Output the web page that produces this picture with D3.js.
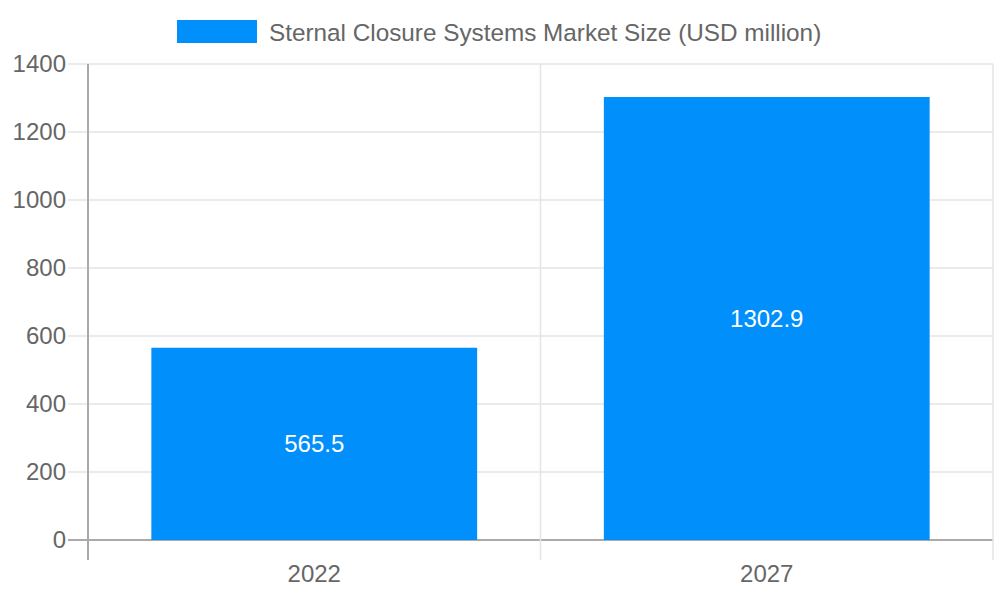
<!DOCTYPE html>
<html>
<head>
<meta charset="utf-8">
<script src="https://cdn.jsdelivr.net/npm/d3@7"></script>
<style>
  body { margin: 0; background: #fff; }
  text { font-family: "Liberation Sans", Arial, sans-serif; }
</style>
</head>
<body>
<svg id="chart" width="1000" height="600"></svg>
<script>
const years = ['2022', '2027']
const marketSize = [565.5, 1302.9]
const yTicks = [0, 200, 400, 600, 800, 1000, 1200, 1400]
const seriesName = 'Sternal Closure Systems Market Size (USD million)'

let margin = {top: 64, right: 7, bottom: 60, left: 88}
let width = 1000 - margin.left - margin.right
let height = 600 - margin.top - margin.bottom
let fontSize = 24

let svg = d3.select('#chart')
let fig = svg.append('g')
    .attr('transform', `translate(${margin.left},${margin.top})`)

let xAxis = d3.scaleBand()
    .domain(years)
    .range([0, width])
    .paddingInner(0)
    .paddingOuter(0)

let yAxis = d3.scaleLinear()
    .domain([0, 1400])
    .range([height, 0])

// horizontal grid + y tick marks
fig.selectAll('.hgrid')
    .data(yTicks)
    .enter().append('line')
    .attr('class', 'hgrid')
    .attr('x1', -20)
    .attr('x2', width)
    .attr('y1', (d) => yAxis(d))
    .attr('y2', (d) => yAxis(d))
    .attr('stroke', (d) => d === 0 ? '#aaaaaa' : '#e4e4e4')
    .attr('stroke-width', (d) => d === 0 ? 2 : 1.5)

// vertical grid lines at category edges
let edges = [0, xAxis.bandwidth(), width]
fig.selectAll('.vgrid')
    .data(edges)
    .enter().append('line')
    .attr('class', 'vgrid')
    .attr('x1', (d) => d)
    .attr('x2', (d) => d)
    .attr('y1', 0)
    .attr('y2', height + 20)
    .attr('stroke', (d, i) => i === 0 ? '#aaaaaa' : '#e4e4e4')
    .attr('stroke-width', (d, i) => i === 0 ? 2 : 1.5)

// y labels
fig.selectAll('.ylab')
    .data(yTicks)
    .enter().append('text')
    .attr('class', 'ylab')
    .attr('x', -22)
    .attr('y', (d) => yAxis(d))
    .attr('dy', '0.35em')
    .attr('text-anchor', 'end')
    .attr('font-size', fontSize)
    .attr('fill', '#666')
    .text((d) => d)

// x labels
fig.selectAll('.xlab')
    .data(years)
    .enter().append('text')
    .attr('class', 'xlab')
    .attr('x', (d) => xAxis(d) + xAxis.bandwidth() / 2)
    .attr('y', height + 34)
    .attr('dy', '0.35em')
    .attr('text-anchor', 'middle')
    .attr('font-size', fontSize)
    .attr('fill', '#666')
    .text((d) => d)

// bars (72% of category width)
let barW = xAxis.bandwidth() * 0.72
fig.selectAll('.bar')
    .data(marketSize)
    .enter().append('rect')
    .attr('class', 'bar')
    .attr('x', (d, i) => xAxis(years[i]) + (xAxis.bandwidth() - barW) / 2)
    .attr('y', (d) => yAxis(d))
    .attr('width', barW)
    .attr('height', (d) => height - yAxis(d))
    .attr('fill', '#008ffb')

// value labels
fig.selectAll('.vlab')
    .data(marketSize)
    .enter().append('text')
    .attr('class', 'vlab')
    .attr('x', (d, i) => xAxis(years[i]) + xAxis.bandwidth() / 2)
    .attr('y', (d) => (yAxis(d) + height) / 2)
    .attr('dy', '0.35em')
    .attr('text-anchor', 'middle')
    .attr('font-size', fontSize)
    .attr('fill', '#fff')
    .text((d) => d)

// legend
let legend = svg.append('g')
legend.append('rect')
    .attr('x', 177)
    .attr('y', 20)
    .attr('width', 80)
    .attr('height', 23)
    .attr('fill', '#008ffb')
legend.append('text')
    .attr('x', 269)
    .attr('y', 32)
    .attr('dy', '0.35em')
    .attr('font-size', 24.3)
    .attr('fill', '#666')
    .text(seriesName)
</script>
</body>
</html>
